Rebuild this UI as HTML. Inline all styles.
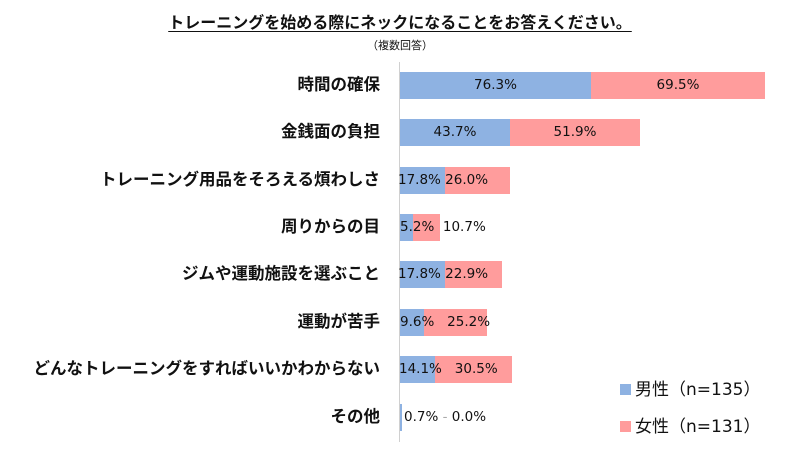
<!DOCTYPE html>
<html><head><meta charset="utf-8"><style>
body{margin:0;width:800px;height:450px;background:#fff;position:relative;overflow:hidden;font-family:"Liberation Sans","Noto Sans CJK JP",sans-serif;color:#111}
.t{position:absolute;left:0;width:800px;text-align:center;top:9px;font-size:16px;font-weight:bold}
.t span{text-decoration:underline;text-underline-offset:3px}
.s{position:absolute;left:0;width:800px;text-align:center;top:37px;font-size:11px}
.l{position:absolute;right:420px;font-size:16.5px;font-weight:bold;white-space:nowrap;line-height:27px}
.b{position:absolute;height:27px;line-height:27px;text-align:center;font-size:13.5px;font-family:"DejaVu Sans",sans-serif}
.m{background:#8EB2E2}.f{background:#FF9C9C}
.v{position:absolute;line-height:27px;font-size:13.5px;white-space:nowrap;font-family:"DejaVu Sans",sans-serif}
.ax{position:absolute;left:399px;top:62px;width:1px;height:380px;background:#d0d0d0}
.lg{position:absolute;left:620px;font-size:17px;white-space:nowrap;font-family:"DejaVu Sans","Noto Sans CJK JP",sans-serif}
.lg i{display:inline-block;width:11px;height:11px;margin-right:4px;vertical-align:0px}
</style></head><body>
<div class="t"><span>トレーニングを始める際にネックになることをお答えください。</span></div>
<div class="s">（複数回答）</div>
<div class="ax"></div>

<div class="l" style="top:72px">時間の確保</div>
<div class="b m" style="left:400px;top:72px;width:191px">76.3%</div>
<div class="b f" style="left:591px;top:72px;width:174px">69.5%</div>

<div class="l" style="top:119px">金銭面の負担</div>
<div class="b m" style="left:400px;top:119px;width:110px">43.7%</div>
<div class="b f" style="left:510px;top:119px;width:130px">51.9%</div>

<div class="l" style="top:167px">トレーニング用品をそろえる煩わしさ</div>
<div class="b m" style="left:400px;top:167px;width:45px"></div>
<div class="b f" style="left:445px;top:167px;width:65px"></div>
<div class="v" style="left:398px;top:167px">17.8% 26.0%</div>

<div class="l" style="top:214px">周りからの目</div>
<div class="b m" style="left:400px;top:214px;width:13px"></div>
<div class="b f" style="left:413px;top:214px;width:27px"></div>
<div class="v" style="left:400px;top:214px">5.2%&nbsp; 10.7%</div>

<div class="l" style="top:261px">ジムや運動施設を選ぶこと</div>
<div class="b m" style="left:400px;top:261px;width:45px"></div>
<div class="b f" style="left:445px;top:261px;width:57px"></div>
<div class="v" style="left:398px;top:261px">17.8% 22.9%</div>

<div class="l" style="top:309px">運動が苦手</div>
<div class="b m" style="left:400px;top:309px;width:24px"></div>
<div class="b f" style="left:424px;top:309px;width:63px"></div>
<div class="v" style="left:400px;top:309px">9.6%&nbsp;&nbsp; 25.2%</div>

<div class="l" style="top:356px">どんなトレーニングをすればいいかわからない</div>
<div class="b m" style="left:400px;top:356px;width:35px"></div>
<div class="b f" style="left:435px;top:356px;width:77px"></div>
<div class="v" style="left:399px;top:356px">14.1%&nbsp;&nbsp; 30.5%</div>

<div class="l" style="top:404px">その他</div>
<div class="b m" style="left:400px;top:404px;width:2px"></div>
<div class="v" style="left:404px;top:404px">0.7% <span style="color:#aaa">-</span> 0.0%</div>

<div class="lg" style="top:375px"><i style="background:#8EB2E2"></i>男性（n=135）</div>
<div class="lg" style="top:412px"><i style="background:#FF9C9C"></i>女性（n=131）</div>
</body></html>
